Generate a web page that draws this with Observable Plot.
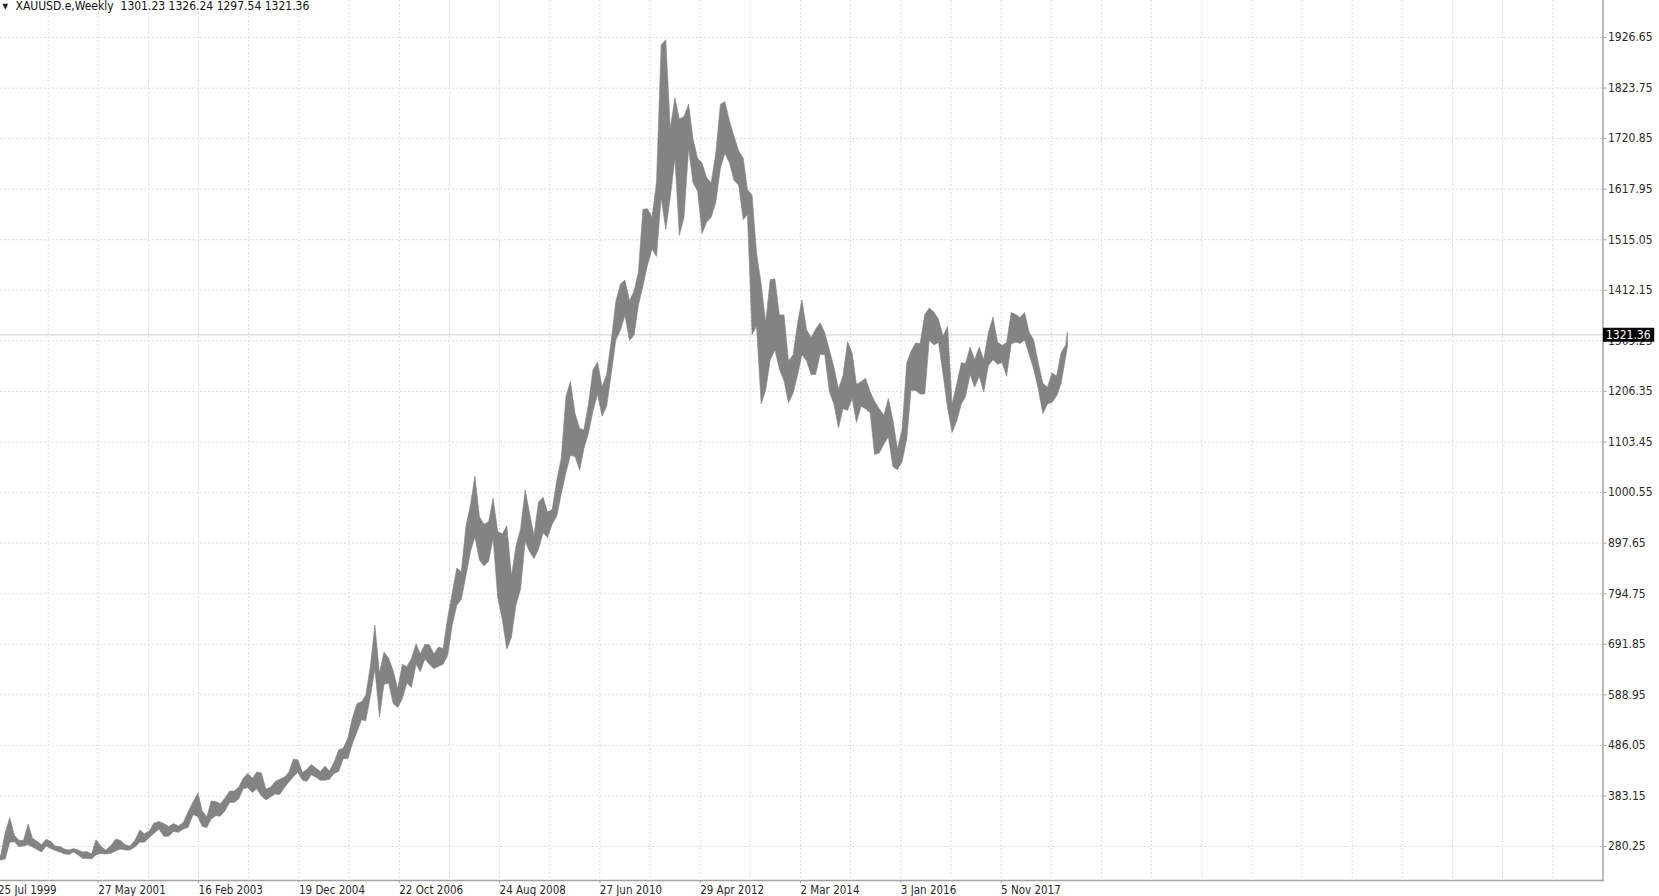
<!DOCTYPE html>
<html>
<head>
<meta charset="utf-8">
<script src="https://cdn.jsdelivr.net/npm/d3@7"></script>
<script src="https://cdn.jsdelivr.net/npm/@observablehq/plot@0.6"></script>
<style>
  html, body { margin: 0; padding: 0; background: #ffffff; }
  #chart { position: relative; width: 1659px; height: 896px; overflow: hidden; }
  #chart svg { display: block; }
</style>
</head>
<body>
<div id="chart"></div>
<script>
// ---------------- DATA ----------------
const symbolTitle = "XAUUSD.e,Weekly";
// last weekly bar (from the header line)
const lastBarDate = "2019-01-27";
const lastOpen = 1301.23, lastHigh = 1326.24, lastLow = 1297.54, lastClose = 1321.36;

// monthly ranges, first month = July 1999
const firstMonth = "1999-07";
const monthLow = [
  252, 252, 254, 288, 289, 279,                                  // 1999 Jul-Dec
  280, 283, 278, 273, 268, 280, 275, 271, 268, 264, 263, 268,    // 2000
  262, 255, 255, 254, 262, 265, 264, 265, 270, 274, 272, 272,    // 2001
  278, 288, 288, 297, 306, 315, 300, 300, 310, 308, 315, 318,    // 2002
  344, 340, 320, 318, 335, 342, 341, 352, 369, 369, 376, 397,    // 2003
  399, 389, 397, 382, 374, 380, 386, 385, 399, 410, 421, 430,    // 2004
  414, 412, 425, 420, 414, 414, 416, 428, 432, 458, 458, 488,    // 2005
  512, 537, 535, 584, 640, 543, 609, 612, 570, 562, 580, 612,    // 2006
  603, 650, 635, 661, 650, 641, 646, 650, 668, 729, 770, 782,    // 2007
  830, 880, 909, 862, 850, 860, 906, 786, 740, 681, 705, 770,    // 2008
  803, 900, 880, 865, 884, 918, 908, 935, 952, 997, 1040, 1075,  // 2009
  1073, 1045, 1088, 1120, 1165, 1200, 1155, 1175, 1242, 1310, 1330, 1360, // 2010
  1309, 1320, 1380, 1420, 1462, 1495, 1480, 1600, 1535, 1600, 1680, 1523, // 2011
  1560, 1700, 1630, 1613, 1527, 1550, 1560, 1590, 1660, 1690, 1670, 1635, // 2012
  1625, 1555, 1565, 1321, 1338, 1180, 1208, 1270, 1290, 1251, 1227, 1182, // 2013
  1202, 1240, 1280, 1268, 1240, 1240, 1281, 1280, 1205, 1180, 1131, 1170, // 2014
  1167, 1191, 1142, 1175, 1170, 1162, 1077, 1080, 1098, 1113, 1052, 1046, // 2015
  1062, 1108, 1208, 1207, 1200, 1200, 1310, 1300, 1305, 1241, 1171, 1122, // 2016
  1145, 1180, 1195, 1240, 1214, 1236, 1204, 1258, 1270, 1261, 1264, 1236, // 2017
  1302, 1306, 1303, 1310, 1281, 1250, 1211, 1160, 1180, 1183, 1196, 1221, // 2018
  1276                                                                     // 2019 Jan
];
const monthHigh = [
  262, 261, 308, 338, 302, 292,                                  // 1999 Jul-Dec
  292, 325, 296, 290, 283, 294, 290, 280, 279, 274, 272, 275,    // 2000
  272, 268, 269, 264, 293, 280, 272, 280, 294, 292, 283, 280,    // 2001
  292, 313, 305, 311, 327, 330, 326, 320, 326, 321, 328, 350,    // 2002
  370, 388, 352, 340, 372, 371, 366, 378, 392, 392, 400, 418,    // 2003
  428, 418, 431, 429, 396, 400, 411, 416, 420, 430, 457, 456,    // 2004
  430, 437, 446, 439, 432, 443, 433, 451, 476, 479, 500, 540,    // 2005
  570, 574, 587, 646, 730, 632, 675, 663, 637, 600, 650, 645,    // 2006
  662, 692, 671, 691, 690, 671, 685, 682, 745, 795, 846, 838,    // 2007
  931, 975, 1033, 950, 935, 940, 988, 921, 915, 932, 830, 890,   // 2008
  925, 1005, 960, 912, 980, 990, 960, 965, 1025, 1070, 1195, 1226, // 2009
  1161, 1130, 1127, 1180, 1249, 1265, 1215, 1240, 1310, 1388, 1424, 1432, // 2010
  1390, 1410, 1447, 1576, 1577, 1560, 1632, 1911, 1921, 1740, 1803, 1760, // 2011
  1765, 1790, 1720, 1680, 1670, 1640, 1630, 1690, 1790, 1795, 1755, 1725, // 2012
  1695, 1680, 1616, 1605, 1487, 1424, 1346, 1433, 1434, 1361, 1361, 1267, // 2013
  1280, 1346, 1392, 1331, 1315, 1332, 1345, 1325, 1290, 1255, 1210, 1238, // 2014
  1307, 1283, 1220, 1225, 1232, 1205, 1185, 1170, 1157, 1191, 1146, 1088, // 2015
  1128, 1263, 1287, 1304, 1303, 1362, 1375, 1367, 1352, 1318, 1338, 1180, // 2016
  1220, 1264, 1262, 1296, 1270, 1296, 1270, 1325, 1357, 1306, 1299, 1305, // 2017
  1366, 1362, 1356, 1366, 1326, 1310, 1264, 1222, 1214, 1243, 1237, 1284, // 2018
  1300                                                                     // 2019 Jan
];

// time-axis labels (one every 96 bars) and price-axis ticks
const dateLabelDates = ["1999-07-25", "2001-05-27", "2003-02-16", "2004-12-19", "2006-10-22",
  "2008-08-24", "2010-06-27", "2012-04-29", "2014-03-02", "2016-01-03", "2017-11-05"];
const dateLabelText = ["25 Jul 1999", "27 May 2001", "16 Feb 2003", "19 Dec 2004", "22 Oct 2006",
  "24 Aug 2008", "27 Jun 2010", "29 Apr 2012", "2 Mar 2014", "3 Jan 2016", "5 Nov 2017"];
const priceTicks = [280.25, 383.15, 486.05, 588.95, 691.85, 794.75, 897.65, 1000.55, 1103.45,
  1206.35, 1309.25, 1412.15, 1515.05, 1617.95, 1720.85, 1823.75, 1926.65];

// ---------------- BUILD ----------------
const W = 1659, H = 896;
const parse = d3.utcParse("%Y-%m-%d");
const labelDates = dateLabelDates.map(parse);
// time scale: bars are laid out evenly, so the labels (96 bars apart) are evenly spaced;
// continue the label sequence (96 weekly bars = 672 days) to the right edge of the plot
const scaleDates = labelDates.slice();
while (scaleDates.length < 17) scaleDates.push(d3.utcDay.offset(scaleDates[scaleDates.length - 1], 672));
const labelStep = 100.31, firstLabelX = -2.5;
const scaleRange = scaleDates.map((d, k) => firstLabelX + labelStep * k);
const plotRight = scaleRange[scaleRange.length - 1];

// vertical grid: every 48 bars (labels and halfway between)
const gridDates = [];
for (let k = 0; k < scaleDates.length - 1; k++) {
  gridDates.push(scaleDates[k]);
  gridDates.push(new Date((+scaleDates[k] + +scaleDates[k + 1]) / 2));
}

const start = parse(firstMonth + "-01");
const bars = monthLow.map((lo, i) => ({
  date: d3.utcDay.offset(d3.utcMonth.offset(start, i), 14),
  low: lo,
  high: monthHigh[i]
}));
bars.push({date: parse(lastBarDate), low: lastLow, high: lastHigh});

const labelMap = new Map(labelDates.map((d, i) => [+d, dateLabelText[i]]));
const headerText = symbolTitle + "\u00a0 " + [lastOpen, lastHigh, lastLow, lastClose].map(v => v.toFixed(2)).join(" ");

const FONT = "'DejaVu Sans Condensed', 'DejaVu Sans', Tahoma, sans-serif";
const GRID = "#dcdcdc";
const AXIS = "#a3a3a3";
const BAR = "#838383";

const chart = Plot.plot({
  width: W,
  height: H,
  marginLeft: 0,
  marginTop: 0,
  marginBottom: 16,
  marginRight: W - plotRight,
  style: {fontFamily: FONT, fontSize: "12px", color: "#222", background: "#fff"},
  x: {type: "utc", domain: scaleDates, range: scaleRange},
  y: {type: "linear", domain: [priceTicks[0], priceTicks[priceTicks.length - 1]], range: [846, 37]},
  marks: [
    Plot.gridY(priceTicks, {stroke: GRID, strokeOpacity: 1, strokeDasharray: "2,2"}),
    Plot.ruleX(gridDates, {stroke: GRID, strokeOpacity: 1, strokeDasharray: "2,2"}),
    Plot.ruleY([lastClose], {stroke: "#cfcfcf", strokeWidth: 1}),
    Plot.areaY(bars, {x: "date", y1: "low", y2: "high", fill: BAR, stroke: BAR, strokeWidth: 0.6}),
    Plot.frame({anchor: "right", stroke: AXIS, strokeWidth: 1.5}),
    Plot.frame({anchor: "bottom", stroke: AXIS, strokeWidth: 1.5}),
    Plot.axisY(priceTicks, {
      anchor: "right", tickSize: 3, tickPadding: 2, stroke: AXIS,
      tickFormat: d => d.toFixed(2), fontSize: 12, fill: "#2a2a2a", label: null
    }),
    Plot.axisX(labelDates, {
      anchor: "bottom", tickSize: 3, tickPadding: 2, stroke: AXIS,
      tickFormat: d => labelMap.get(+d), textAnchor: "start", fontSize: 11.5, fill: "#2a2a2a", label: null
    }),
    Plot.text(["\u25BC"], {frameAnchor: "top-left", dx: 2, dy: 3, textAnchor: "start", lineAnchor: "top", fontSize: 8, fill: "#222"}),
    Plot.text([headerText], {frameAnchor: "top-left", dx: 15, dy: 1, textAnchor: "start", lineAnchor: "top", fontSize: 12, fill: "#111"}),
    Plot.text([lastClose], {y: d => d, text: d => d.toFixed(2), frameAnchor: "right", dx: 3, textAnchor: "start",
      fontSize: 12, fill: "#ffffff", className: "last-price"})
  ]
});

document.getElementById("chart").appendChild(chart);

// black box behind the current-price label, sized from the label itself
const priceLabel = chart.querySelector(".last-price text");
if (priceLabel) {
  const sb = chart.getBoundingClientRect();
  const tb = priceLabel.getBoundingClientRect();
  const rect = document.createElementNS("http://www.w3.org/2000/svg", "rect");
  rect.setAttribute("x", plotRight + 0.5);
  rect.setAttribute("y", tb.top - sb.top);
  rect.setAttribute("width", tb.right - sb.left - plotRight + 3);
  rect.setAttribute("height", tb.height);
  rect.setAttribute("fill", "#000");
  const g = priceLabel.closest("g");
  g.parentNode.insertBefore(rect, g);
}
</script>
</body>
</html>
